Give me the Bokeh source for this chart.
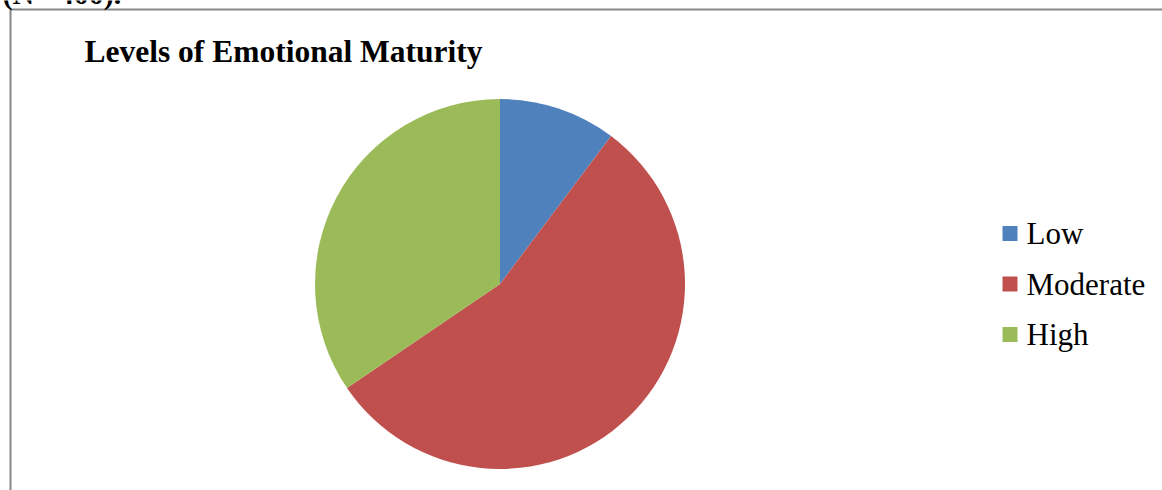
import math
from bokeh.plotting import figure
from bokeh.models import Range1d, ColumnDataSource
from bokeh.core.properties import value
from bokeh.embed import file_html
from bokeh.resources import INLINE

categories = ["Low", "Moderate", "High"]
counts = [41, 221, 138]
colors = ["#4F81BD", "#C0504D", "#9BBB59"]
title_text = "Levels of Emotional Maturity"
note_text = "(N= 400)."

W, H = 1162, 490
p = figure(width=W, height=H, output_backend="svg", toolbar_location=None,
           x_range=Range1d(0, W), y_range=Range1d(0, H), min_border=0,
           outline_line_color=None)
p.axis.visible = False
p.grid.visible = False
p.background_fill_color = "white"
p.border_fill_color = "white"

def Y(py):
    return H - py

# chart frame border
p.line([10, 10, W + 5], [Y(H + 5), Y(9), Y(9)], line_color="#878787", line_width=2)

# pie
total = sum(counts)
starts, ends = [], []
a = math.pi / 2
for c in counts:
    starts.append(a)
    a -= 2 * math.pi * c / total
    ends.append(a)
src = ColumnDataSource(dict(cat=categories, val=counts, color=colors, start=starts, end=ends))
cx, cy, r = 499.5, 283.5, 185
p.wedge(x=cx, y=Y(cy), radius=r, start_angle="start", end_angle="end",
        direction="clock", fill_color="color", line_color=None, source=src)

# legend
leg_y = [Y(233 + 50.5 * i) for i in range(len(categories))]
leg_src = ColumnDataSource(dict(cat=categories, color=colors, y=leg_y,
                                x=[1009.5] * 3, tx=[1026] * 3))
p.rect(x="x", y="y", width=15, height=15, fill_color="color", line_color=None, source=leg_src)
p.text(x="tx", y="y", text="cat", source=leg_src, text_font=value("Liberation Serif"),
       text_font_size="31px", text_baseline="middle", text_color="black")

# title
p.text(x=[84], y=[Y(51)], text=[title_text], text_font=value("Liberation Serif"),
       text_font_size="31.5px", text_font_style="bold", text_baseline="middle",
       text_color="black")

# note at top, cut off by the page edge as in the reference
p.text(x=[2], y=[Y(-7)], text=[note_text], text_font=value("Liberation Serif"),
       text_font_size="30px", text_font_style="bold", text_baseline="alphabetic",
       text_color="black")

open("out.html", "w").write(file_html(p, INLINE))
